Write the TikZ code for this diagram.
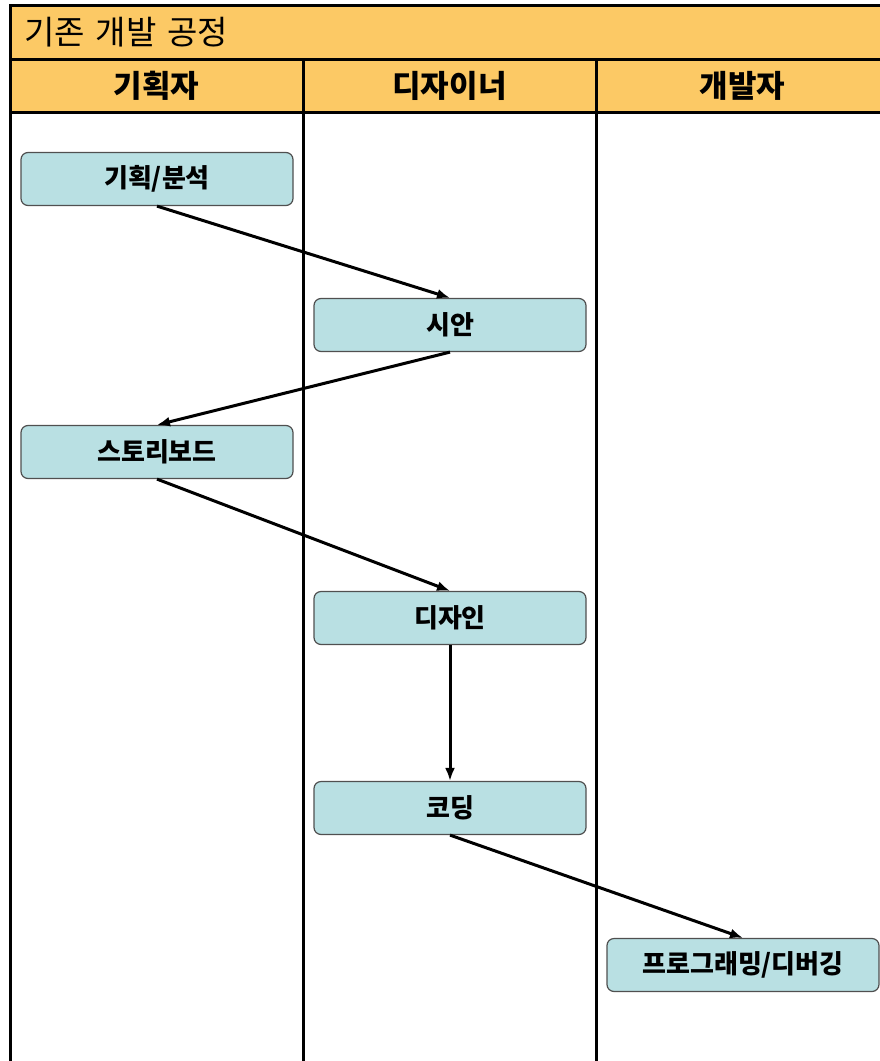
\documentclass[tikz,border=0pt]{standalone}
\usepackage{fontspec}
\setmainfont{Noto Sans CJK KR}
\usetikzlibrary{arrows.meta, positioning}

\definecolor{headorange}{HTML}{FCC965}
\definecolor{taskcyan}{HTML}{B9E0E3}
\definecolor{taskborder}{HTML}{505050}

\begin{document}
\begin{tikzpicture}[
    x=1pt, y=-1pt,
    every node/.style={font=\fontsize{24}{26}\selectfont},
    titlebar/.style={draw, line width=3pt, outer sep=0pt, fill=headorange, text width=862pt, inner xsep=14pt, minimum height=54pt, align=left, font=\fontsize{33}{35}\selectfont},
    header/.style={draw, line width=3pt, outer sep=0pt, fill=headorange, minimum width=293pt, minimum height=53pt, inner sep=0pt, font=\fontsize{31}{33}\selectfont\bfseries},
    lane/.style={draw, line width=3pt},
    task/.style={draw=taskborder, fill=taskcyan, rounded corners=7pt, line width=1.2pt, minimum width=272pt, minimum height=53pt, inner sep=0pt, font=\fontsize{26}{28}\selectfont\bfseries},
    arrow/.style={-{Latex[length=13pt, width=10pt]}, line width=3pt}
]
    \useasboundingbox (0,0) rectangle (880,1061);
    \clip (0,0) rectangle (880,1061);

    \node (title) [titlebar, anchor=north west] at (10,5) {기존 개발 공정};
    \node (planner) [header, anchor=north west] at (title.south west) {기획자};
    \node (designer) [header, right=0pt of planner] {디자이너};
    \node (developer) [header, right=0pt of designer] {개발자};

    \draw [lane] (planner.south west) rectangle ++(293,1000);
    \draw [lane] (designer.south west) rectangle ++(293,1000);
    \draw [lane] (developer.south west) rectangle ++(293,1000);

    \node (analysis) [task] at (157,179) {기획/분석};
    \node (draft) [task] at (450,325) {시안};
    \node (story) [task] at (157,452) {스토리보드};
    \node (design) [task] at (450,618) {디자인};
    \node (coding) [task] at (450,808) {코딩};
    \node (program) [task] at (743,965) {프로그래밍/디버깅};

    \draw [arrow] (analysis.south) -- (draft.north);
    \draw [arrow] (draft.south) -- (story.north);
    \draw [arrow] (story.south) -- (design.north);
    \draw [arrow] (design.south) -- (coding.north);
    \draw [arrow] (coding.south) -- (program.north);
\end{tikzpicture}
\end{document}
